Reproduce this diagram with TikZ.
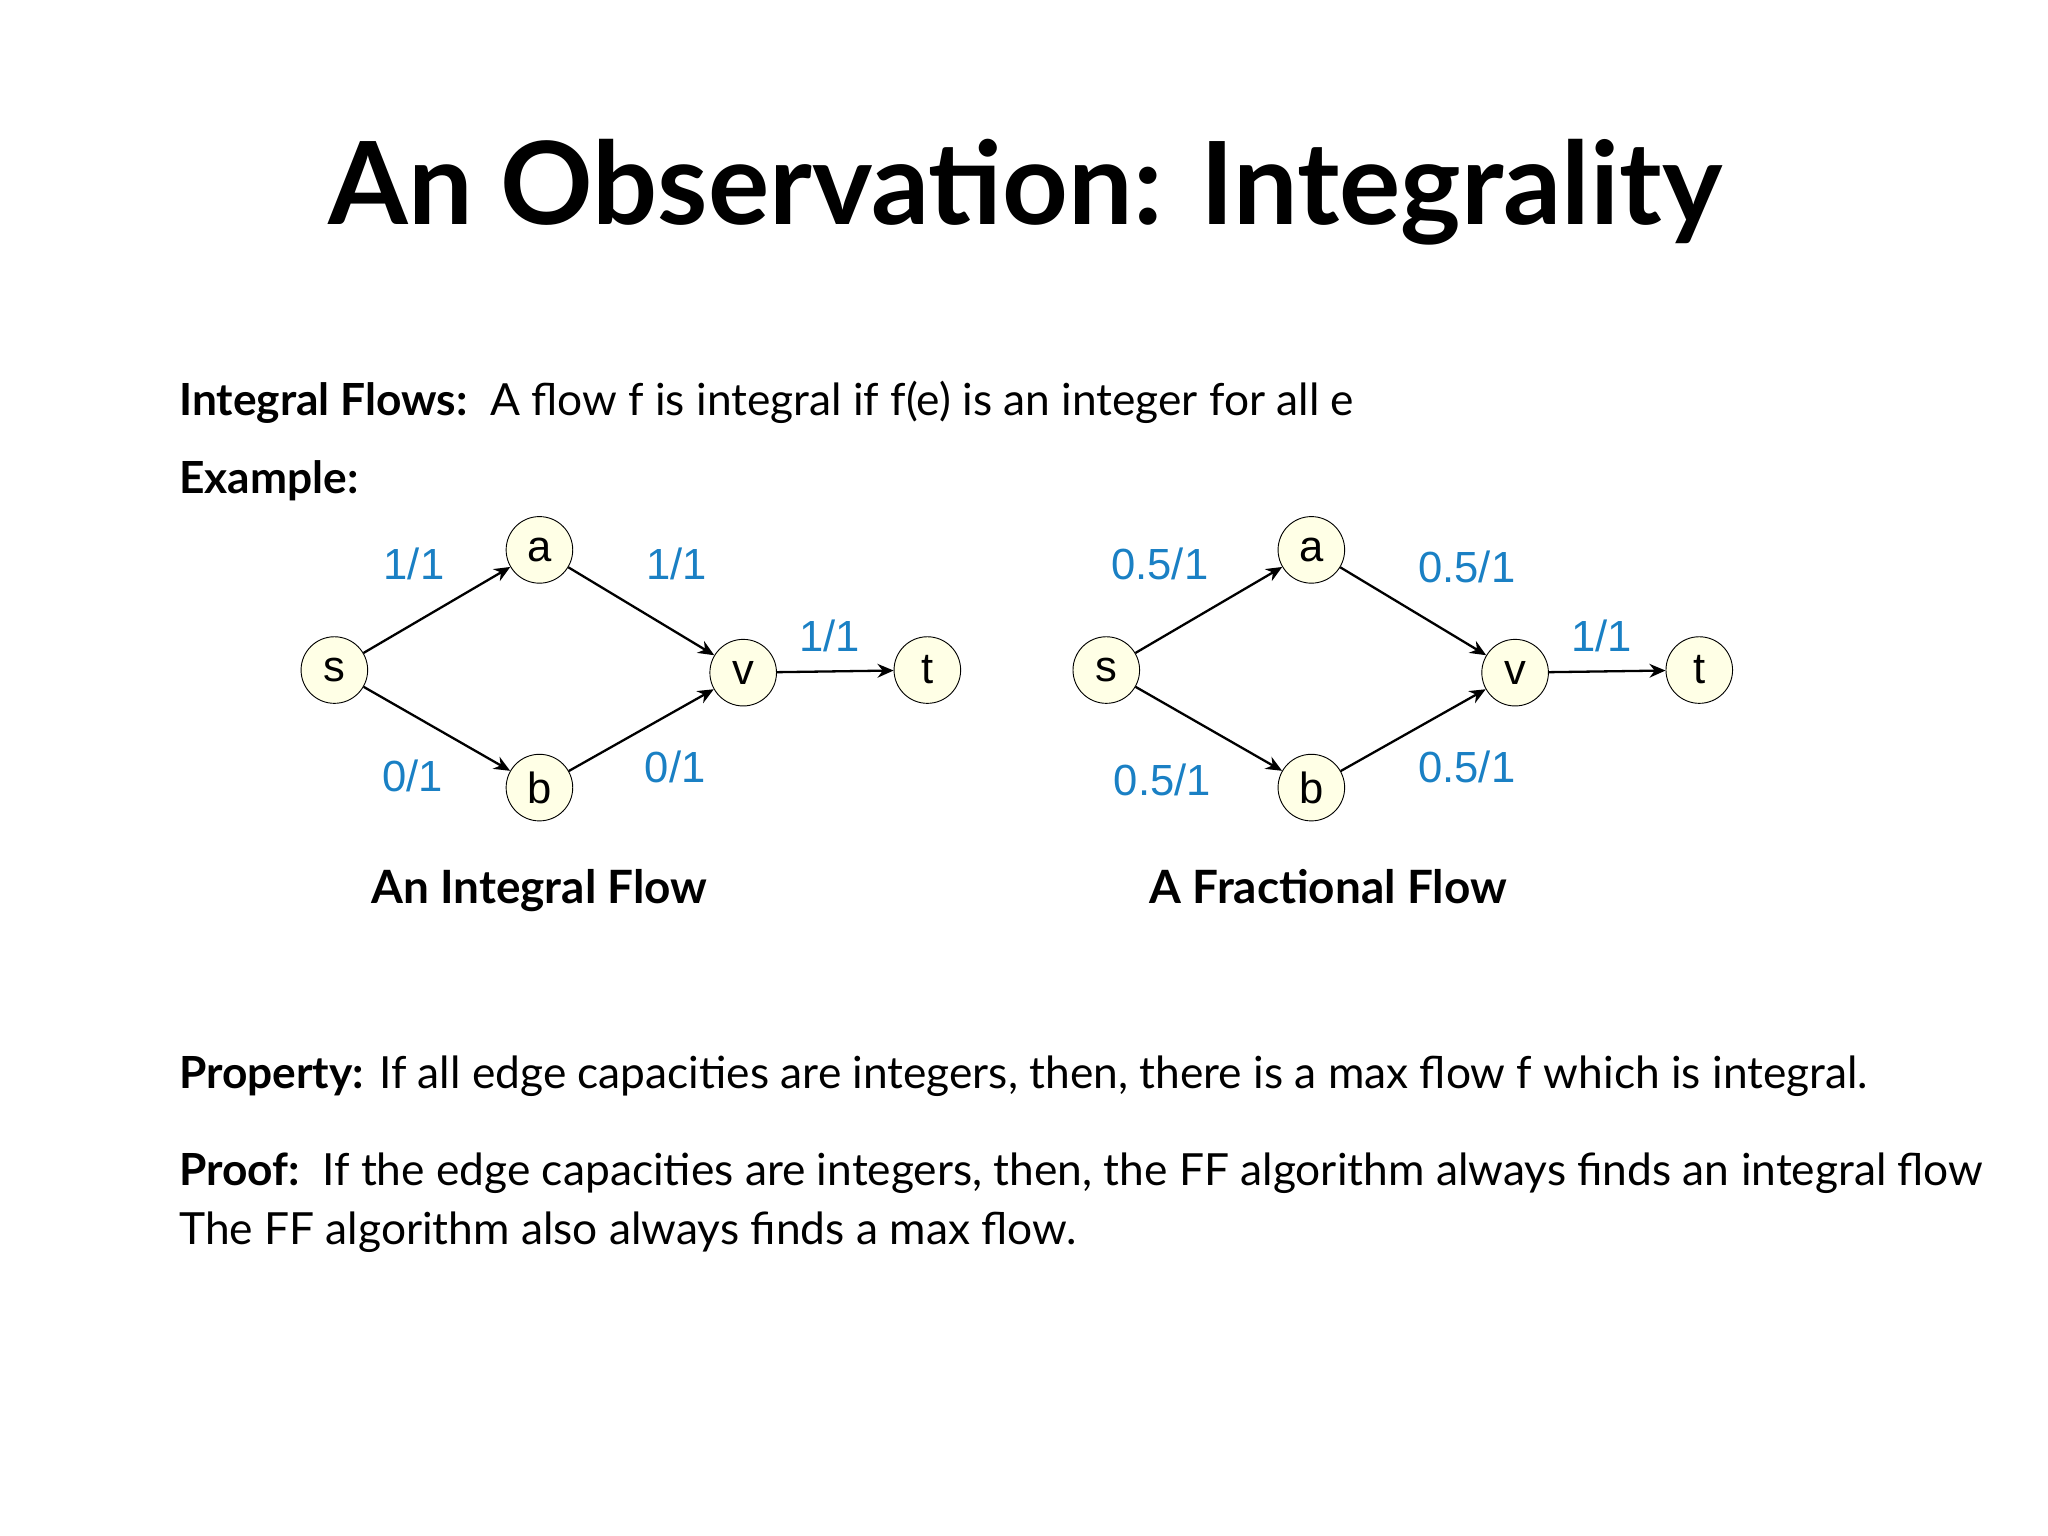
\documentclass[tikz,border=0pt]{standalone}
\usepackage{fontspec}
\usetikzlibrary{arrows.meta}
\setmainfont{Lato}
\newfontfamily\arialf{Liberation Sans}
\definecolor{lbl}{HTML}{1A80C4}
\definecolor{nodefill}{HTML}{FFFFE6}
\tikzset{
  vert/.style={circle,draw,fill=nodefill,minimum size=1.02cm,inner sep=0pt,font=\arialf\fontsize{19}{22}\selectfont},
  flow/.style={-{Stealth[length=7pt,width=6pt]},line width=1pt},
  lab/.style={text=lbl,font=\arialf\fontsize{19}{22}\selectfont},
  body/.style={anchor=base west,font=\fontsize{19.3}{22}\selectfont},
}
\begin{document}
\begin{tikzpicture}[x=0.02cm,y=-0.02cm]
\useasboundingbox (0,0) rectangle (1568,1176);
\node[anchor=base,font=\fontsize{50}{54}\selectfont\bfseries] (title) at (785,172) {An Observation: Integrality};
\node[body] (def) at (131,318) {\textbf{Integral Flows:}\ \ A flow f is integral if f(e) is an integer for all e};
\node[body] (ex) at (131,378) {\textbf{Example:}};
\foreach \p/\dx in {L/0,R/591}{
  \node[vert] (s\p) at (256+\dx,513) {s};
  \node[vert] (a\p) at (413+\dx,421) {a};
  \node[vert] (b\p) at (413+\dx,603) {b};
  \node[vert] (v\p) at (569+\dx,515) {v};
  \node[vert] (t\p) at (710+\dx,513) {t};
  \draw[flow] (s\p) -- (a\p);
  \draw[flow] (s\p) -- (b\p);
  \draw[flow] (a\p) -- (v\p);
  \draw[flow] (b\p) -- (v\p);
  \draw[flow] (v\p) -- (t\p);
}
\node[lab] (l1) at (317,432) {1/1};
\node[lab] (l2) at (518,432) {1/1};
\node[lab] (l3) at (635,487) {1/1};
\node[lab] (l4) at (316,594) {0/1};
\node[lab] (l5) at (517,587) {0/1};
\node[lab] (r1) at (888,432) {0.5/1};
\node[lab] (r2) at (1123,434) {0.5/1};
\node[lab] (r3) at (1226,487) {1/1};
\node[lab] (r4) at (890,597) {0.5/1};
\node[lab] (r5) at (1123,587) {0.5/1};
\node[anchor=base,font=\fontsize{20}{24}\selectfont\bfseries] (capL) at (413,692) {An Integral Flow};
\node[anchor=base,font=\fontsize{20}{24}\selectfont\bfseries] (capR) at (1017,692) {A Fractional Flow};
\node[body] (prop) at (131,833) {\textbf{Property:} If all edge capacities are integers, then, there is a max flow f which is integral.};
\node[body] (pf1) at (131,908) {\textbf{Proof:}\ \ If the edge capacities are integers, then, the FF algorithm always finds an integral flow};
\node[body] (pf2) at (131,953) {The FF algorithm also always finds a max flow.};
\end{tikzpicture}
\end{document}
